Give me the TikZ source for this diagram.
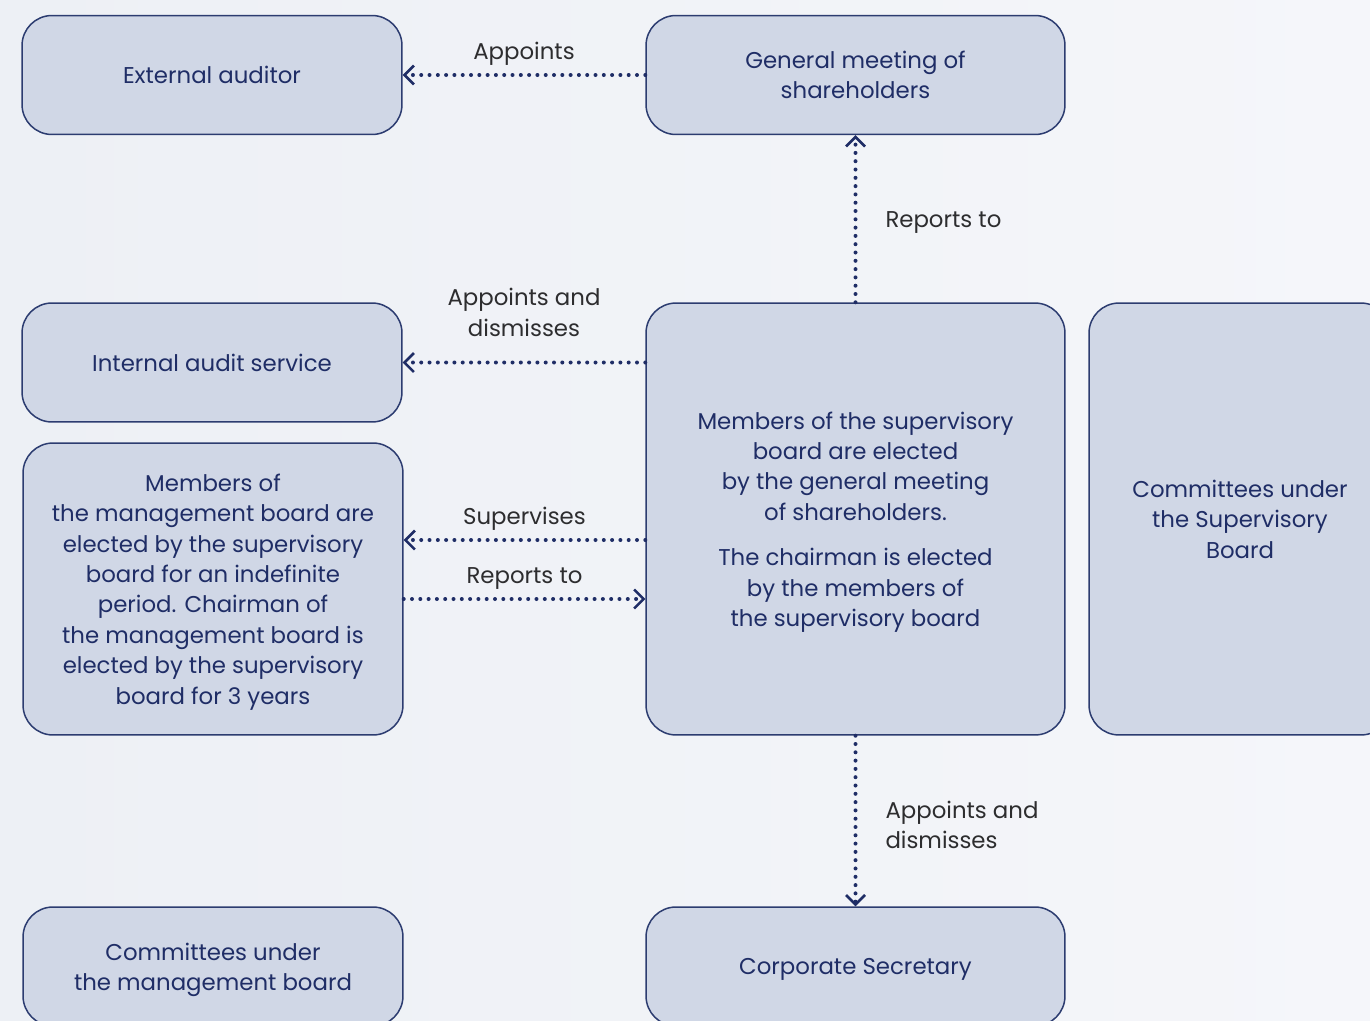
\documentclass[tikz,border=0pt]{standalone}
\usepackage{fontspec}
\setmainfont{Poppins}
\usepackage{xcolor}
\usepackage{tikz}
\usetikzlibrary{arrows.meta,positioning}
\definecolor{govnavy}{HTML}{1F2D66}
\definecolor{govline}{HTML}{2C3C70}
\definecolor{govfill}{HTML}{D0D7E6}
\definecolor{govink}{HTML}{2D2D2F}
\definecolor{govbgleft}{HTML}{EDF0F5}
\definecolor{govbgright}{HTML}{F5F6FA}

\begin{document}
\begin{tikzpicture}[
  x=0.02cm,y=-0.02cm,
  box/.style={draw=govline,line width=0.03cm,rounded corners=0.6cm,fill=govfill,align=center,text=govnavy,minimum width=7.6cm,minimum height=2.38cm,inner sep=0pt,text depth=0pt,font=\fontsize{13}{17.3}\selectfont},
  widebox/.style={box,minimum width=8.38cm},
  lbl/.style={text=govink,inner sep=0pt,font=\fontsize{13}{17.3}\selectfont},
  link/.style={draw=govnavy,line width=0.08cm,line cap=round,dash pattern=on 0pt off 0.166cm,-{Straight Barb[length=0.19cm,width=0.38cm,line width=0.05cm]}}
]
\useasboundingbox (0,0) rectangle (1370,1021);
\shade[left color=govbgleft,right color=govbgright] (0,0) rectangle (1370,1021);

\node[box] (auditor) at (212,75) {External auditor};
\node[widebox] (meeting) at (855.5,75) {General meeting of\\shareholders};
\node[box] (internal) at (212,362.5) {Internal audit service};
\node[box,minimum height=5.84cm] (mgmt) at (213,589) {Members of\\the management board are\\elected by the supervisory\\board for an indefinite\\period. Chairman of\\the management board is\\elected by the supervisory\\board for 3 years};
\node[widebox,minimum height=8.64cm] (superv) at (855.5,519) {Members of the supervisory\\board are elected\\by the general meeting\\of shareholders.\\[0.3cm]The chairman is elected\\by the members of\\the supervisory board};
\node[box,minimum width=6.04cm,minimum height=8.64cm] (svcommittees) at (1240,519) {Committees under\\the Supervisory\\Board};
\node[box] (mgcommittees) at (213,966.5) {Committees under\\the management board};
\node[widebox] (secretary) at (855.5,966.5) {Corporate Secretary};

\draw[link] (meeting.west) -- (auditor.east) node[lbl,midway,yshift=0.42cm] (appointslbl) {Appoints};
\draw[link] (superv.north) -- (meeting.south) node[lbl,midway,anchor=west,xshift=0.56cm,yshift=-0.08cm] (reportslbl) {Reports to};
\draw[link] (superv.west |- internal.east) -- (internal.east) node[lbl,midway,yshift=1cm,align=center] (auditlbl) {Appoints and\\dismisses};
\draw[link] (superv.west |- 0,540) -- (mgmt.east |- 0,540) node[lbl,midway,yshift=0.42cm] (supervlbl) {Supervises};
\draw[link] (mgmt.east |- 0,599) -- (superv.west |- 0,599) node[lbl,midway,yshift=0.42cm] (mgmtreportslbl) {Reports to};
\draw[link] (superv.south) -- (secretary.north) node[lbl,midway,anchor=west,xshift=0.56cm,yshift=-0.08cm,align=left] (secretarylbl) {Appoints and\\dismisses};
\end{tikzpicture}
\end{document}
